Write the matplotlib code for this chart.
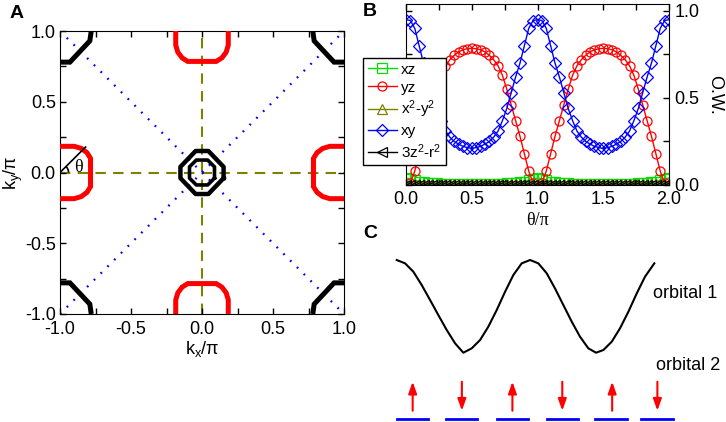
import numpy as np
import matplotlib
matplotlib.use('Agg')
import matplotlib.pyplot as plt
from matplotlib.patches import Arc
from matplotlib.ticker import MultipleLocator, FormatStrFormatter

plt.rcParams['font.family'] = ['Liberation Sans', 'DejaVu Sans']
plt.rcParams['mathtext.default'] = 'regular'
plt.rcParams['axes.unicode_minus'] = False

# ---------------- panel A: Fermi surface (k/pi units) ----------------
# pocket at the zone edge: u along the edge, v distance inwards from the edge
edge_u = [-0.185, -0.185, -0.17, -0.14, -0.10, 0.10, 0.14, 0.17, 0.185, 0.185]
edge_v = [0.0, 0.10, 0.15, 0.19, 0.215, 0.215, 0.19, 0.15, 0.10, 0.0]
# pocket at the zone corner: distances from the corner along x and y
corner_a = [0.0, 0.07, 0.21, 0.22]
corner_b = [0.22, 0.22, 0.07, 0.0]
# two small pockets around Gamma
outer_x = [0.152, 0.152, 0.045, -0.045, -0.152, -0.152, -0.045, 0.045, 0.152]
outer_y = [-0.04, 0.04, 0.152, 0.152, 0.04, -0.04, -0.152, -0.152, -0.04]
inner_x = [0.088, 0.088, 0.04, -0.04, -0.088, -0.088, -0.04, 0.04, 0.088]
inner_y = [-0.04, 0.04, 0.088, 0.088, 0.04, -0.04, -0.088, -0.088, -0.04]
theta_line_x = [-1.0, -0.82]
theta_line_y = [0.0, 0.18]

# ---------------- panel B: orbital weight vs theta/pi ----------------
theta = np.linspace(0, 2, 61)
ow_xy = [0.95, 0.945, 0.90, 0.80, 0.70, 0.62, 0.53, 0.44, 0.37, 0.31, 0.275, 0.25, 0.235, 0.222, 0.215, 0.21,
         0.215, 0.222, 0.235, 0.25, 0.275, 0.31, 0.37, 0.44, 0.53, 0.62, 0.70, 0.80, 0.90, 0.945, 0.95,
         0.945, 0.90, 0.80, 0.70, 0.62, 0.53, 0.44, 0.37, 0.31, 0.275, 0.25, 0.235, 0.222, 0.215, 0.21,
         0.215, 0.222, 0.235, 0.25, 0.275, 0.31, 0.37, 0.44, 0.53, 0.62, 0.70, 0.80, 0.90, 0.945, 0.95]
ow_yz = [0.0, 0.01, 0.08, 0.18, 0.28, 0.37, 0.46, 0.55, 0.63, 0.685, 0.72, 0.745, 0.765, 0.777, 0.783, 0.785,
         0.783, 0.777, 0.765, 0.745, 0.72, 0.685, 0.63, 0.55, 0.46, 0.37, 0.28, 0.18, 0.08, 0.01, 0.0,
         0.01, 0.08, 0.18, 0.28, 0.37, 0.46, 0.55, 0.63, 0.685, 0.72, 0.745, 0.765, 0.777, 0.783, 0.785,
         0.783, 0.777, 0.765, 0.745, 0.72, 0.685, 0.63, 0.55, 0.46, 0.37, 0.28, 0.18, 0.08, 0.01, 0.0]
ow_xz = [0.04, 0.036, 0.028, 0.02, 0.015, 0.012, 0.01, 0.009, 0.008, 0.007, 0.006, 0.006, 0.005, 0.005, 0.005, 0.005,
         0.005, 0.005, 0.005, 0.006, 0.006, 0.007, 0.008, 0.009, 0.01, 0.012, 0.015, 0.02, 0.028, 0.036, 0.04,
         0.036, 0.028, 0.02, 0.015, 0.012, 0.01, 0.009, 0.008, 0.007, 0.006, 0.006, 0.005, 0.005, 0.005, 0.005,
         0.005, 0.005, 0.005, 0.006, 0.006, 0.007, 0.008, 0.009, 0.01, 0.012, 0.015, 0.02, 0.028, 0.036, 0.04]
ow_x2y2 = [0.006, 0.006, 0.005, 0.005, 0.005, 0.004, 0.004, 0.004, 0.004, 0.004, 0.004, 0.004, 0.004, 0.004, 0.004, 0.004,
           0.004, 0.004, 0.004, 0.004, 0.004, 0.004, 0.004, 0.004, 0.004, 0.004, 0.005, 0.005, 0.005, 0.006, 0.006,
           0.006, 0.005, 0.005, 0.005, 0.004, 0.004, 0.004, 0.004, 0.004, 0.004, 0.004, 0.004, 0.004, 0.004, 0.004,
           0.004, 0.004, 0.004, 0.004, 0.004, 0.004, 0.004, 0.004, 0.004, 0.004, 0.005, 0.005, 0.005, 0.006, 0.006]
ow_z2 = [0.002] * 61
series = [('xz', ow_xz, '#00e000', 's'),
          ('yz', ow_yz, 'red', 'o'),
          ('x$^2$-y$^2$', ow_x2y2, '#808000', '^'),
          ('xy', ow_xy, 'blue', 'D'),
          ('3z$^2$-r$^2$', ow_z2, 'black', '<')]

# ---------------- panel C: schematic ----------------
curve_t = [0.0, 0.063, 0.125, 0.188, 0.251, 0.313, 0.376, 0.439, 0.501, 0.564, 0.627, 0.689, 0.752, 0.815,
           0.877, 0.94, 1.003, 1.065, 1.128, 1.19, 1.253, 1.316, 1.378, 1.441, 1.499, 1.554, 1.617, 1.679,
           1.742, 1.805, 1.867, 1.937]
curve_e = [1.0, 0.964, 0.874, 0.73, 0.568, 0.406, 0.245, 0.101, 0.0, 0.047, 0.137, 0.281, 0.46, 0.658,
           0.838, 0.964, 1.0, 0.964, 0.856, 0.694, 0.514, 0.335, 0.173, 0.047, 0.0, 0.029, 0.119, 0.263,
           0.442, 0.64, 0.82, 0.964]
spin_t = [0.12, 0.49, 0.87, 1.245, 1.62, 1.96]
spin_up = [True, False, True, False, True, False]
level_left = [0.0, 0.371, 0.752, 1.128, 1.491, 1.837]
level_right = [0.238, 0.606, 0.99, 1.366, 1.729, 2.075]

FS = 13
W, H = 726, 422
fig = plt.figure(figsize=(W / 100, H / 100), dpi=100)


def px_axes(x0, y0, x1, y1):
    return fig.add_axes([x0 / W, 1 - y1 / H, (x1 - x0) / W, (y1 - y0) / H])


# ===== A =====
ax = px_axes(60, 31, 344, 314)
ax.axhline(0, color='#808000', lw=1.5, dashes=(5, 3.5), zorder=1)
ax.axvline(0, color='#808000', lw=1.5, dashes=(5, 3.5), zorder=1)
ax.plot([-1, 1], [-1, 1], color='blue', lw=1.6, ls=(0, (0.8, 3.5)), zorder=1)
ax.plot([-1, 1], [1, -1], color='blue', lw=1.6, ls=(0, (0.8, 3.5)), zorder=1)

u = np.array(edge_u)
v = np.array(edge_v)
kw = dict(lw=3.6, solid_joinstyle='miter', solid_capstyle='butt', zorder=3)
ax.plot(u, 1 - v, color='red', **kw)
ax.plot(u, -1 + v, color='red', **kw)
ax.plot(-1 + v, u, color='red', **kw)
ax.plot(1 - v, u, color='red', **kw)

a = np.array(corner_a)
b = np.array(corner_b)
for sx in (-1, 1):
    for sy in (-1, 1):
        ax.plot(sx * (1 - a), sy * (1 - b), color='black', **kw)
ax.plot(outer_x, outer_y, color='black', lw=3.2, zorder=3)
ax.plot(inner_x, inner_y, color='black', lw=2.6, zorder=3)

ax.plot(theta_line_x, theta_line_y, color='black', lw=1.2, zorder=4)
ax.add_patch(Arc((-1, 0), 0.12, 0.12, theta1=0, theta2=45, color='black', lw=1.2, zorder=4))
ax.text(-0.87, 0.035, 'θ', fontsize=FS, ha='center', va='center', family=['Liberation Serif', 'DejaVu Serif'])

ax.set_xlim(-1, 1)
ax.set_ylim(-1, 1)
for axis in (ax.xaxis, ax.yaxis):
    axis.set_major_locator(MultipleLocator(0.5))
    axis.set_minor_locator(MultipleLocator(0.25))
    axis.set_major_formatter(FormatStrFormatter('%.1f'))
ax.tick_params(which='both', direction='in', top=True, right=True, length=4, width=1)
ax.tick_params(axis='x', labelsize=FS, pad=5)
ax.tick_params(axis='y', labelsize=FS, pad=3)
ax.set_xlabel('k$_x$/π', fontsize=FS, labelpad=1)
ax.set_ylabel('k$_y$/π', fontsize=FS, labelpad=0)
fig.text(17 / W, 1 - 13 / H, 'A', fontsize=14, fontweight='bold', ha='center', va='center')

# ===== B =====
bx = px_axes(406, 4, 669, 185)
for name, vals, col, mk in series:
    bx.plot(theta, vals, color=col, lw=1.0, marker=mk, ms=6.5, mfc='none', mew=0.9, label=name)
bx.set_xlim(0, 2)
bx.set_ylim(0, 1.04)
bx.xaxis.set_major_locator(MultipleLocator(0.5))
bx.xaxis.set_minor_locator(MultipleLocator(0.25))
bx.yaxis.set_major_locator(MultipleLocator(0.5))
bx.yaxis.set_minor_locator(MultipleLocator(0.25))
bx.xaxis.set_major_formatter(FormatStrFormatter('%.1f'))
bx.yaxis.set_major_formatter(FormatStrFormatter('%.1f'))
bx.tick_params(which='both', direction='in', top=True, right=True, left=True, length=4, width=1,
               labelleft=False, labelright=True, labelsize=FS, pad=4)
bx.set_xlabel('θ/π', fontsize=FS, labelpad=3, family=['Liberation Serif', 'DejaVu Serif'])
bx.yaxis.set_label_position('right')
bx.set_ylabel('O.W.', fontsize=FS, rotation=270, labelpad=17)
leg = bx.legend(loc='upper left', bbox_to_anchor=(363 / W, 1 - 58 / H), bbox_transform=fig.transFigure,
                fontsize=11, frameon=True, fancybox=False, edgecolor='black', framealpha=1,
                handlelength=1.9, labelspacing=0.26, borderpad=0.3, handletextpad=0.3, borderaxespad=0)
leg.get_frame().set_linewidth(1.0)
fig.text(370 / W, 1 - 12 / H, 'B', fontsize=14, fontweight='bold', ha='center', va='center')

# ===== C =====
t0, tscale = 396.7, 133.0
e0, escale = 352.7, 92.7
cx = px_axes(380, 240, 726, 422)
cx.set_xlim((380 - t0) / tscale, (726 - t0) / tscale)
cx.set_ylim((e0 - 422) / escale, (e0 - 240) / escale)
cx.axis('off')
cx.plot(curve_t, curve_e, color='black', lw=1.5)
for t, up in zip(spin_t, spin_up):
    y_lo, y_hi = -0.626, -0.313
    start, end = ((t, y_lo), (t, y_hi)) if up else ((t, y_hi), (t, y_lo))
    cx.annotate('', xy=end, xytext=start,
                arrowprops=dict(arrowstyle='-|>,head_length=0.7,head_width=0.25', color='red',
                                lw=1.5, shrinkA=0, shrinkB=0, mutation_scale=10))
for l, r in zip(level_left, level_right):
    cx.plot([l, r], [-0.715, -0.715], color='blue', lw=2)
cx.text(1.93, 0.644, 'orbital 1', fontsize=FS, ha='left', va='center')
cx.text(1.95, -0.133, 'orbital 2', fontsize=FS, ha='left', va='center')
fig.text(370 / W, 1 - 233 / H, 'C', fontsize=14, fontweight='bold', ha='center', va='center')

fig.savefig('out.png', dpi=100)
